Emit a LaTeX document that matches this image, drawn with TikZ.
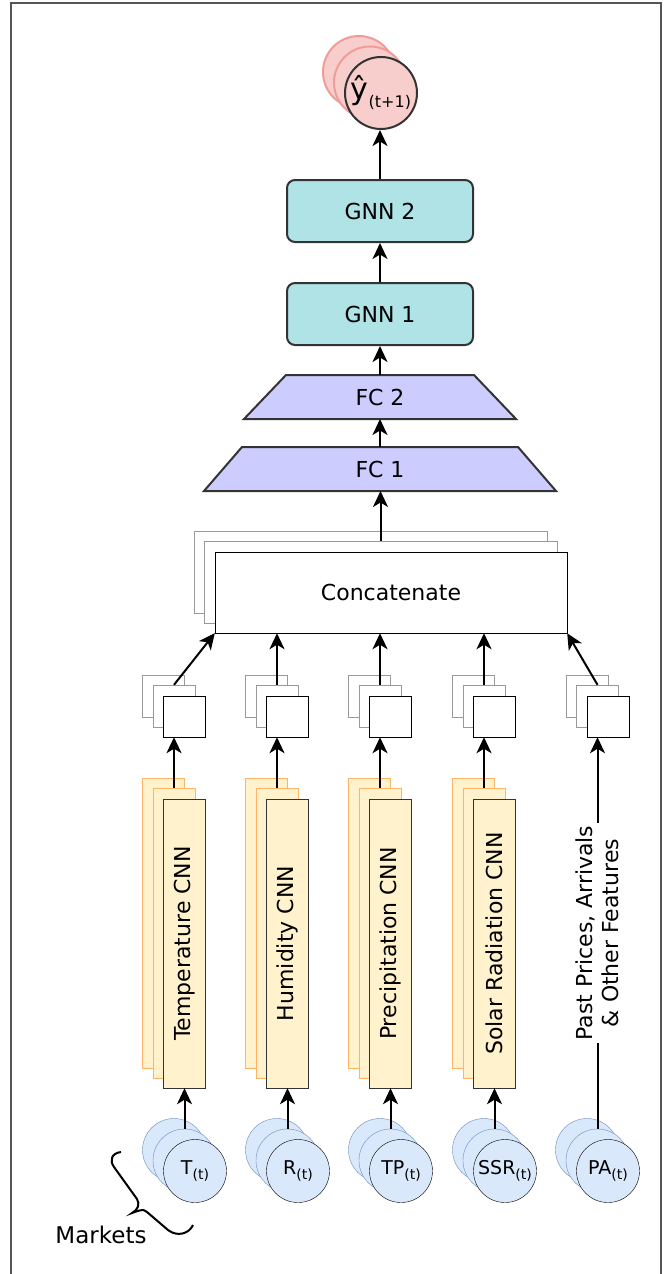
\documentclass[tikz,border=0pt]{standalone}
\usepackage{fontspec}
\setmainfont{DejaVu Sans}
\usetikzlibrary{arrows.meta}
\pgfdeclarelayer{background}
\pgfsetlayers{background,main}
\definecolor{pinkfill}{HTML}{F8CECC}
\definecolor{pinkline}{HTML}{F19C99}
\definecolor{tealfill}{HTML}{B0E3E6}
\definecolor{purplefill}{HTML}{CCCCFF}
\definecolor{orangefill}{HTML}{FFF2CC}
\definecolor{orangeline}{HTML}{FFB366}
\definecolor{bluefill}{HTML}{DAE8FC}
\definecolor{blueline}{HTML}{6C8EBF}
\definecolor{darkline}{HTML}{333333}
\definecolor{greyline}{HTML}{999999}
\definecolor{framecol}{HTML}{555555}
\newcommand{\sub}[1]{\raisebox{-5pt}{\fontsize{14}{14}\selectfont #1}}
\begin{document}
\begin{tikzpicture}[x=1pt,y=-1pt,line width=2pt,
  arr/.style={-{Stealth[length=16pt,width=15pt,inset=4.5pt]},line width=2pt,black},
  lbl/.style={font=\fontsize{22}{26}\selectfont},
  gnnbox/.style={lbl,draw=darkline,fill=tealfill,rounded corners=8pt,minimum width=186pt,minimum height=62pt,inner sep=0pt},
  fcbox/.style={lbl,minimum height=42pt,inner sep=0pt},
  trap/.style={draw=darkline,fill=purplefill,line width=2pt},
  catback/.style={draw=greyline,fill=white,minimum width=353pt,minimum height=82pt,inner sep=0pt},
  catfront/.style={lbl,draw=black,fill=white,minimum width=352pt,minimum height=81pt,inner sep=0pt},
  sback/.style={draw=greyline,fill=white,minimum width=42pt,minimum height=42pt,inner sep=0pt},
  sfront/.style={draw=black,fill=white,minimum width=42pt,minimum height=41pt,inner sep=0pt},
  cnnback/.style={draw=orangeline,fill=orangefill,minimum width=42pt,minimum height=290pt,inner sep=0pt},
  cnnfront/.style={lbl,draw=darkline,fill=orangefill,minimum width=42pt,minimum height=289pt,inner sep=0pt},
  inback/.style={circle,draw=blueline,fill=bluefill,minimum size=63pt,inner sep=0pt},
  infront/.style={circle,draw=black,fill=bluefill,minimum size=63pt,inner sep=0pt,font=\fontsize{19}{19}\selectfont},
  outback/.style={circle,draw=pinkline,fill=pinkfill,minimum size=72pt,inner sep=0pt},
  outfront/.style={circle,draw=darkline,fill=pinkfill,minimum size=72pt,inner sep=0pt},
  sidelbl/.style={lbl,fill=white,rotate=90,align=center,inner sep=3pt}]
\useasboundingbox (0,0) rectangle (665,1274);
% frame
\draw[framecol,line width=2pt] (11,1274) -- (11,3) -- (661,3) -- (661,1274);

% output circles
\node[outback] (yb) at (359,72) {};
\node[outback] (ym) at (370,82.5) {};
\node[outfront] (yf) at (381,93) {{\fontsize{30}{30}\selectfont \^{y}}\raisebox{-8pt}{\fontsize{16}{16}\selectfont (t+1)}};

% GNN
\node[gnnbox] (gnn2) at (380,211) {GNN 2};
\node[gnnbox] (gnn1) at (380,314) {GNN 1};

% FC
\node[fcbox,minimum width=270pt] (fc2) at (380,397) {FC 2};
\node[fcbox,minimum width=350pt] (fc1) at (380,469) {FC 1};
\begin{pgfonlayer}{background}
\draw[trap] ([xshift=42pt]fc2.north west) -- ([xshift=-42pt]fc2.north east) -- (fc2.south east) -- (fc2.south west) -- cycle;
\draw[trap] ([xshift=38pt]fc1.north west) -- ([xshift=-38pt]fc1.north east) -- (fc1.south east) -- (fc1.south west) -- cycle;
\end{pgfonlayer}

% Concatenate
\node[catback] (catb) at (370.5,572) {};
\node[catback] (catm) at (380.5,582) {};
\node[catfront] (catf) at (391,592.5) {Concatenate};

% columns
\foreach \i/\c/\t in {1/174/Temperature CNN,2/277/Humidity CNN,3/380/Precipitation CNN,4/484/Solar Radiation CNN}{
  \node[sback] (sb\i b) at (\c-10.5,696) {};
  \node[sback] (sb\i m) at (\c,706) {};
  \node[sfront] (sb\i f) at (\c+10.5,716.5) {};
  \node[cnnback] (k\i b) at (\c-10.5,923) {};
  \node[cnnback] (k\i m) at (\c,933) {};
  \node[cnnfront] (k\i f) at (\c+10.5,943.5) {\rotatebox{90}{\t}};
}
\node[sback] (sb5b) at (587,696) {};
\node[sback] (sb5m) at (597.5,706) {};
\node[sfront] (sb5f) at (608,716.5) {};

% input circles
\node[inback] (c1b) at (174,1150) {};
\node[inback] (c1m) at (184.5,1160.5) {};
\node[infront] (c1f) at (195,1171) {T\sub{(t)}};
\node[inback] (c2b) at (277,1150) {};
\node[inback] (c2m) at (287.5,1160.5) {};
\node[infront] (c2f) at (298,1171) {R\sub{(t)}};
\node[inback] (c3b) at (380,1150) {};
\node[inback] (c3m) at (390.5,1160.5) {};
\node[infront] (c3f) at (401,1171) {TP\sub{(t)}};
\node[inback] (c4b) at (484,1150) {};
\node[inback] (c4m) at (494.5,1160.5) {};
\node[infront] (c4f) at (505,1171) {SSR\sub{(t)}};
\node[inback] (c5b) at (587,1150) {};
\node[inback] (c5m) at (597.5,1160.5) {};
\node[infront] (c5f) at (608,1171) {PA\sub{(t)}};

% connectors
\foreach \i in {1,2,3,4}{
  \draw[arr] (c\i m.north) -- (c\i m.north |- k\i f.south);
  \draw[arr] (k\i m.north) -- (k\i m.north |- sb\i f.south);
}
\draw[arr] (c5m.north) -- (c5m.north |- sb5f.south)
  node[sidelbl,midway] {Past Prices, Arrivals\\\& Other Features};
\draw[arr] (sb1m.north) -- (catf.south west);
\foreach \i in {2,3,4}{
  \draw[arr] (sb\i m.north) -- (sb\i m.north |- catf.south);
}
\draw[arr] (sb5m.north) -- (catf.south east);
\draw[arr] (catm.north) -- (catm.north |- fc1.south);
\draw[arr] (fc1.north) -- (fc2.south);
\draw[arr] (fc2.north) -- (gnn1.south);
\draw[arr] (gnn1.north) -- (gnn2.south);
\draw[arr] (gnn2.north) -- (gnn2.north |- yf.south);

% brace and label
\draw[black,line width=2pt] (121,1152) .. controls (112,1153) and (109,1160) .. (114,1167)
  -- (137,1199) .. controls (140,1204) and (138,1210) .. (132,1213)
  .. controls (138,1211) and (143,1208) .. (147,1212)
  -- (168,1230) .. controls (177,1237) and (189,1234) .. (193,1225);
\node[lbl,font=\fontsize{23}{26}\selectfont] (mk) at (101,1235) {Markets};
\end{tikzpicture}
\end{document}
